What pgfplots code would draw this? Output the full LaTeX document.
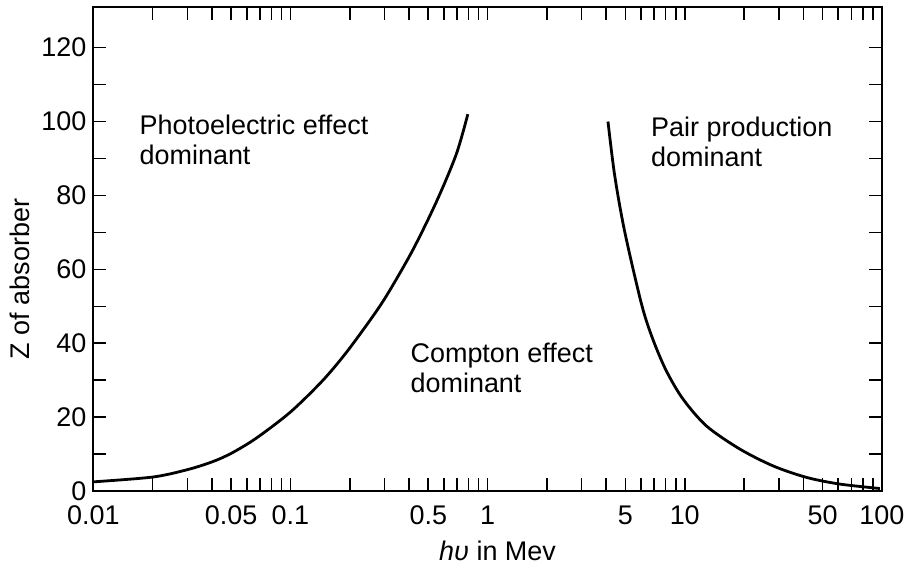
\documentclass[border=0pt]{standalone}
\usepackage{fontspec}
\setmainfont{Liberation Sans}
\usepackage{pgfplots}
\pgfplotsset{compat=1.18}
\newcommand{\lblfont}{\fontsize{13.5bp}{15bp}\selectfont}
\begin{document}
\begin{tikzpicture}
\begin{axis}[
  scale only axis, width=395bp, height=242.5bp,
  xmode=log, xmin=0.01, xmax=100, ymin=0, ymax=131,
  xtick={0.01,0.05,0.1,0.5,1,5,10,50,100},
  xticklabels={0.01,0.05,0.1,0.5,1,5,10,50,100},
  minor xtick={0.02,0.03,0.04,0.06,0.07,0.08,0.09,0.2,0.3,0.4,0.6,0.7,0.8,0.9,2,3,4,6,7,8,9,20,30,40,60,70,80,90},
  ytick={0,20,40,60,80,100,120},
  yticklabels={0,20,40,60,80,100,120},
  minor ytick={10,30,50,70,90,110},
  tick align=inside, major tick length=6.5bp, minor tick length=6.5bp,
  every tick/.style={line width=0.8bp, black},
  axis line style={line width=1bp},
  tick label style={font=\lblfont},
  xticklabel style={yshift=-4bp},
  every axis x label/.style={at={(axis description cs:0.5,0)}, anchor=center, xshift=5bp, yshift=-30bp, font=\lblfont},
  every axis y label/.style={at={(axis description cs:0,0.5)}, anchor=center, xshift=-36.75bp, yshift=-15bp, rotate=90, font=\lblfont},
  xlabel={\textit{hυ} in Mev},
  ylabel={Z of absorber},
  clip=false,
]
\addplot[black, line width=1.4bp, smooth] coordinates {
  (0.01,2.5) (0.02,3.8) (0.03,5.8) (0.04,7.9) (0.05,10.2) (0.067,14.3)
  (0.1,21.4) (0.145,29.8) (0.192,37.5) (0.265,47.7) (0.318,54.2)
  (0.418,65.3) (0.549,78.2) (0.693,91.1) (0.794,102)
};
\addplot[black, line width=1.4bp, smooth] coordinates {
  (4.08,100) (4.41,85.5) (4.96,70.2) (6.05,50.4) (6.9,41) (8.07,32.5)
  (9.8,24.9) (12.9,17.6) (19.0,11.4) (28.1,6.8) (41.5,3.7) (61.2,1.9) (97.7,0.7)
};
\node[anchor=north west, inner sep=0pt, align=left, font=\lblfont] at (axis cs:0.0171,101.9) {Photoelectric effect\\dominant};
\node[anchor=north west, inner sep=0pt, align=left, font=\lblfont] at (axis cs:0.405,40.3) {Compton effect\\dominant};
\node[anchor=north west, inner sep=0pt, align=left, font=\lblfont] at (axis cs:6.73,101.4) {Pair production\\dominant};
\end{axis}
\path ([xshift=-46.75bp,yshift=-41.5bp]current axis.south west) rectangle ([xshift=14bp,yshift=3.5bp]current axis.north east);
\end{tikzpicture}
\end{document}
